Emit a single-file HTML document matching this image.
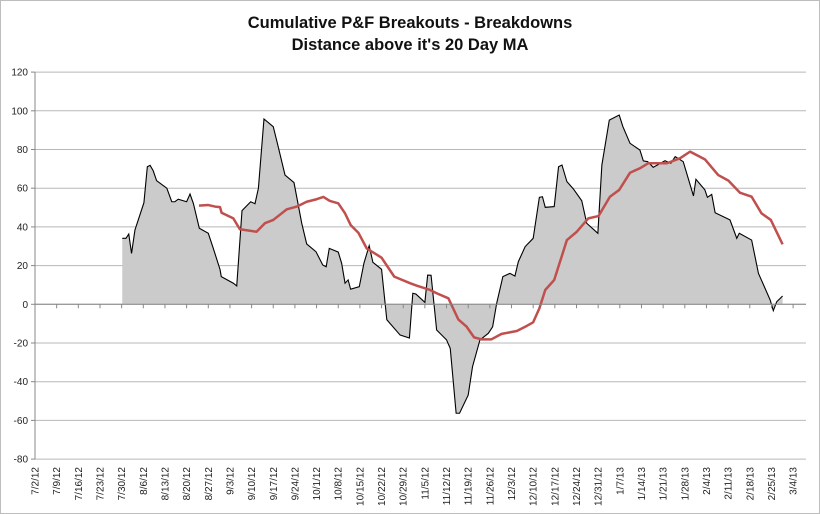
<!DOCTYPE html>
<html><head><meta charset="utf-8"><style>
body{margin:0;background:#fff}
svg{display:block;font-family:"Liberation Sans",sans-serif}
</style></head><body>
<svg id="chart" width="820" height="514" viewBox="0 0 820 514">
<rect x="0.5" y="0.5" width="819" height="513" fill="#fff" stroke="#bdbdbd"/>
<text x="410" y="28" text-anchor="middle" font-size="16.5" font-weight="bold" fill="#111">Cumulative P&amp;F Breakouts - Breakdowns</text>
<text x="410" y="50" text-anchor="middle" font-size="16.5" font-weight="bold" fill="#111">Distance above it's 20 Day MA</text>
<g id="grid"></g><g id="series"></g><g id="axes"></g>
</svg>
<script>
const yTicks=[120,100,80,60,40,20,0,-20,-40,-60,-80];
const xLabels=["7/2/12","7/9/12","7/16/12","7/23/12","7/30/12","8/6/12","8/13/12","8/20/12","8/27/12","9/3/12","9/10/12","9/17/12","9/24/12","10/1/12","10/8/12","10/15/12","10/22/12","10/29/12","11/5/12","11/12/12","11/19/12","11/26/12","12/3/12","12/10/12","12/17/12","12/24/12","12/31/12","1/7/13","1/14/13","1/21/13","1/28/13","2/4/13","2/11/13","2/18/13","2/25/13","3/4/13"];
// days since 7/2/12
const bDays=[28.2,29.4,30.3,31.2,32.3,35.2,36.3,37.2,38.2,39.3,42.6,44.2,45.2,46.3,49,50.1,51.2,53.1,56,57.6,59.8,60.2,64.1,65.2,66.9,69.7,71.1,72.2,74,77,78.6,80.8,83.7,86.2,87.8,90.8,93,94.1,95.1,98,99.1,100.2,101.2,102,104.8,106.3,108,109.2,112,113.7,118,121,122.1,123.1,126,126.9,128,129.8,133,134.2,136.1,137.2,140,141.4,143.8,146.5,147.9,149.2,151.2,153.5,155.1,156.2,158.4,161,163,164,164.9,167.8,169.2,170.3,171.9,174,176.7,178.3,181.9,183.2,185.6,188.8,190,192.3,195.5,196.6,198,199.8,203.6,205.5,206.9,209.5,212.8,213.6,216.5,217.3,218.7,219.8,224.6,226.8,227.6,231.6,233.8,237.6,238.6,239.7,241.6];
const bVals=[34.1,34.1,36.3,26.3,38.4,52.5,71.1,71.8,69,63.9,60,53,53,54.3,53,57,52,39.3,36.7,29,18,14.3,10.9,9.5,48.4,53,52,60,95.8,91.8,81.4,66.8,62.9,41.9,31.2,27.2,20.3,19.4,28.9,27,21.2,10.9,12.6,7.8,9.1,21.2,30.3,21.7,18.1,-8,-15.9,-17.4,5.7,5.3,1,15.1,15,-13.3,-18.4,-22.8,-56.3,-56.3,-46.9,-32.2,-18.4,-15,-11.6,0.5,14.3,16,14.6,22,29.8,34.1,55.3,55.6,50.1,50.5,71.1,72,63.4,59.6,53.5,41.9,36.7,72,95.2,97.8,91.8,83.2,79.7,74.1,73.7,70.8,74.2,72.9,76.3,73.7,56,64.6,59.1,55.3,56.8,47.3,43.6,34.1,36.7,33.2,16,2.2,-3.3,1.3,4.3];
const maDays=[53,56,58.2,59.8,60.3,64.1,66.2,71.6,74.3,77,81.4,84.6,87.8,91,93.2,95.3,98,100.2,102,104.5,107.2,112,116.1,121.2,123.4,127.7,129.8,133.6,136.8,139.5,141.9,144.3,147.5,150.8,155.7,158.9,161,163,164.9,167.8,171.9,175.1,178.8,182.1,185.8,188.8,192.3,195.5,198.2,204.2,208.5,211.7,216.5,220.8,224.1,227.8,231.6,234.8,237.8,241.6];
const maVals=[51,51.3,50.5,50.2,47.3,44.4,38.8,37.5,41.9,43.6,49.1,50.5,53,54.3,55.5,53.4,52.2,47,41,37,28.9,24.1,14.3,10.9,9.6,7.4,5.7,3.1,-7.8,-11.6,-17.1,-18.1,-18.1,-15.3,-13.8,-11.2,-9.3,-2.1,7.4,12.6,33.2,37.5,44.4,45.6,55.6,59.1,68,70.3,72.9,72.9,75.5,78.9,74.9,66.8,63.9,57.7,55.6,47,43.6,31];
const X0=35,X1=806,PXDAY=21.66/7,Y0=304.3,PXU=1.935;
const xs=d=>X0+d*PXDAY, ys=v=>Y0-v*PXU;
const NS="http://www.w3.org/2000/svg";
function mk(tag,parent,attrs){const e=document.createElementNS(NS,tag);for(const k in attrs)e.setAttribute(k,attrs[k]);parent.appendChild(e);return e;}
const grid=document.getElementById('grid'),axes=document.getElementById('axes'),ser=document.getElementById('series');
yTicks.forEach(t=>{
  const l=mk('line',grid,{x1:X0,x2:X1,y1:ys(t),y2:ys(t),stroke:'#b8b8b8','stroke-width':1});
  
  
  const tx=mk('text',axes,{x:28,y:ys(t)+3.5,'text-anchor':'end','font-size':10,fill:'#222'});
  tx.textContent=t;
  
  
});
// area
let d='M'+xs(bDays[0])+','+ys(0);
bDays.forEach((x,i)=>{d+=' L'+xs(x)+','+ys(bVals[i]);});
d+=' L'+xs(bDays[bDays.length-1])+','+ys(0)+' Z';
const area=mk('path',ser,{d:d,fill:'#cbcbcb',stroke:'none'});


const bl=mk('polyline',ser,{points:bDays.map((x,i)=>xs(x)+','+ys(bVals[i])).join(' '),fill:'none',stroke:'#000','stroke-width':1.1});


const ma=mk('polyline',ser,{points:maDays.map((x,i)=>xs(x)+','+ys(maVals[i])).join(' '),fill:'none',stroke:'#c0504d','stroke-width':2.5,'stroke-linejoin':'round'});


// axes
const ya=mk('line',axes,{x1:X0,x2:X0,y1:ys(120),y2:ys(-80),stroke:'#888'});


const xa=mk('line',axes,{x1:X0,x2:X1,y1:ys(0),y2:ys(0),stroke:'#888'});


yTicks.forEach(t=>{const k=mk('line',axes,{x1:X0-4,x2:X0,y1:ys(t),y2:ys(t),stroke:'#888'});
  
  });
xLabels.forEach((lab,i)=>{
  const x=xs(i*7);
  const k=mk('line',axes,{x1:x,x2:x,y1:ys(0),y2:ys(0)+4,stroke:'#888'});
  
  
  const tx=mk('text',axes,{x:0,y:0,'text-anchor':'end','font-size':10,fill:'#222',transform:'translate('+(x+3.5)+',467) rotate(-90)'});
  tx.textContent=lab;
  
  
});
</script>
</body></html>
